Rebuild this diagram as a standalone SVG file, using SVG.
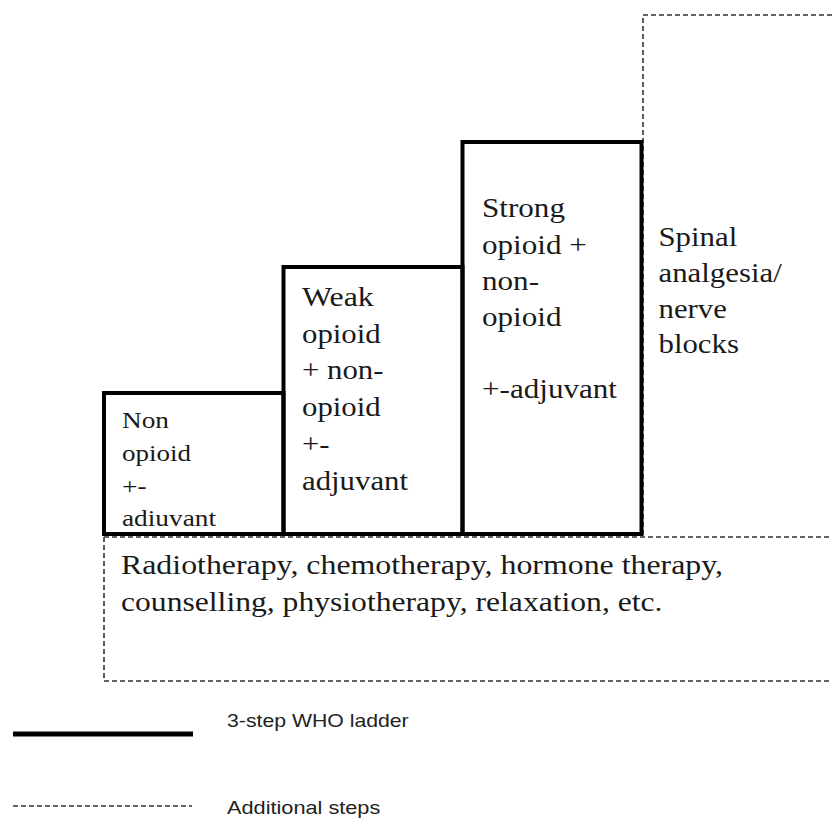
<svg xmlns="http://www.w3.org/2000/svg" width="832" height="819" viewBox="0 0 832 819">
<style>
.step{fill:none;stroke:#000;stroke-width:4;stroke-linejoin:miter}
.extra{fill:none;stroke:#333;stroke-width:1.6;stroke-dasharray:5 3}
.t{font-family:"Times New Roman","Liberation Serif",Times,serif;fill:#1a1a1a}
.s1{font-size:24px}
.s2{font-size:27px}
.leg{font-family:"Liberation Sans",Arial,sans-serif;font-size:18.5px;fill:#222}
</style>
<rect width="832" height="819" fill="#fff"/>
<g id="additional-outlines">
<path class="extra" d="M643,535 V15 H832"/>
<path class="extra" d="M104,537 H832 M104,537 V681 H832"/>
</g>
<g id="step1">
<rect class="step" x="104" y="393" width="179.5" height="141"/>
<text class="t s1" x="122" y="428" textLength="47" lengthAdjust="spacingAndGlyphs">Non</text>
<text class="t s1" x="122" y="461" textLength="69" lengthAdjust="spacingAndGlyphs">opioid</text>
<text class="t s1" x="122" y="493.5" textLength="24.5" lengthAdjust="spacingAndGlyphs">+-</text>
<text class="t s1" x="122" y="526" textLength="94" lengthAdjust="spacingAndGlyphs">adiuvant</text>
</g>
<g id="step2">
<rect class="step" x="283.5" y="267" width="179" height="267"/>
<text class="t s2" x="302" y="306" textLength="71.8" lengthAdjust="spacingAndGlyphs">Weak</text>
<text class="t s2" x="302" y="342.7" textLength="78.7" lengthAdjust="spacingAndGlyphs">opioid</text>
<text class="t s2" x="302" y="379.4" textLength="81.5" lengthAdjust="spacingAndGlyphs">+ non-</text>
<text class="t s2" x="302" y="416.1" textLength="78.7" lengthAdjust="spacingAndGlyphs">opioid</text>
<text class="t s2" x="302" y="452.8" textLength="27.6" lengthAdjust="spacingAndGlyphs">+-</text>
<text class="t s2" x="302" y="489.5" textLength="106" lengthAdjust="spacingAndGlyphs">adjuvant</text>
</g>
<g id="step3">
<rect class="step" x="462.5" y="142" width="179" height="392"/>
<text class="t s2" x="482" y="217.3" textLength="83" lengthAdjust="spacingAndGlyphs">Strong</text>
<text class="t s2" x="482" y="253.5" textLength="104.8" lengthAdjust="spacingAndGlyphs">opioid +</text>
<text class="t s2" x="482" y="289.7" textLength="57" lengthAdjust="spacingAndGlyphs">non-</text>
<text class="t s2" x="482" y="325.9" textLength="79.5" lengthAdjust="spacingAndGlyphs">opioid</text>
<text class="t s2" x="482" y="398.3" textLength="135" lengthAdjust="spacingAndGlyphs">+-adjuvant</text>
</g>
<g id="spinal">
<text class="t s2" x="658.5" y="246" textLength="78.7" lengthAdjust="spacingAndGlyphs">Spinal</text>
<text class="t s2" x="658.5" y="281.8" textLength="123.2" lengthAdjust="spacingAndGlyphs">analgesia/</text>
<text class="t s2" x="658.5" y="317.6" textLength="68.4" lengthAdjust="spacingAndGlyphs">nerve</text>
<text class="t s2" x="658.5" y="353.4" textLength="80.4" lengthAdjust="spacingAndGlyphs">blocks</text>
</g>
<g id="other-therapies">
<text class="t s2" x="121" y="574" textLength="602" lengthAdjust="spacingAndGlyphs">Radiotherapy, chemotherapy, hormone therapy,</text>
<text class="t s2" x="121" y="611" textLength="541.5" lengthAdjust="spacingAndGlyphs">counselling, physiotherapy, relaxation, etc.</text>
</g>
<g id="legend">
<line x1="13" y1="734" x2="193" y2="734" stroke="#000" stroke-width="5"/>
<text class="leg" x="227" y="727" textLength="181.7" lengthAdjust="spacingAndGlyphs">3-step WHO ladder</text>
<line class="extra" x1="13" y1="806" x2="192" y2="806" stroke-dasharray="7 3"/>
<text class="leg" x="227" y="814" textLength="153.3" lengthAdjust="spacingAndGlyphs">Additional steps</text>
</g>
</svg>
